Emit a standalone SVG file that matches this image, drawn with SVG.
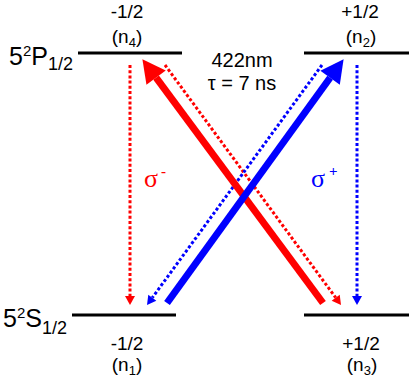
<svg xmlns="http://www.w3.org/2000/svg" width="415" height="382" viewBox="0 0 415 382">
<style>
.lvl{stroke:#000;stroke-width:3;fill:none}
.t{font-family:"Liberation Sans",Arial,sans-serif;fill:#000}
.lab{font-size:19px;text-anchor:middle}
.big{font-size:25px}
.thickR{stroke:#FF0000;stroke-width:7;fill:none}
.thickB{stroke:#0000FF;stroke-width:7;fill:none}
.dotR{stroke:#FF0000;stroke-width:3;stroke-dasharray:3 2.2;fill:none}
.dotB{stroke:#0000FF;stroke-width:3;stroke-dasharray:3 2.2;fill:none}
.sig{font-family:"Liberation Serif","Times New Roman",serif;font-size:26px}
</style>
<defs>
<marker id="bigR" markerUnits="userSpaceOnUse" markerWidth="23" markerHeight="24" refX="0" refY="12" orient="auto" overflow="visible"><path d="M0,0 L23,12 L0,24 z" fill="#FF0000"/></marker>
<marker id="bigB" markerUnits="userSpaceOnUse" markerWidth="23" markerHeight="24" refX="0" refY="12" orient="auto" overflow="visible"><path d="M0,0 L23,12 L0,24 z" fill="#0000FF"/></marker>
<marker id="smR" markerUnits="userSpaceOnUse" markerWidth="9" markerHeight="10" refX="0" refY="5" orient="auto" overflow="visible"><path d="M0,0 L9,5 L0,10 z" fill="#FF0000"/></marker>
<marker id="smB" markerUnits="userSpaceOnUse" markerWidth="9" markerHeight="10" refX="0" refY="5" orient="auto" overflow="visible"><path d="M0,0 L9,5 L0,10 z" fill="#0000FF"/></marker>
</defs>

<g id="level-P-minus"><line class="lvl" x1="78" y1="53" x2="182" y2="53"/>
<text class="t lab" x="127" y="18">-1/2</text>
<text class="t lab" x="127" y="43">(n<tspan font-size="13" dy="4">4</tspan><tspan dy="-4">)</tspan></text></g>
<g id="level-P-plus"><line class="lvl" x1="304" y1="53" x2="409" y2="53"/>
<text class="t lab" x="360" y="18">+1/2</text>
<text class="t lab" x="361" y="43">(n<tspan font-size="13" dy="4">2</tspan><tspan dy="-4">)</tspan></text></g>
<g id="level-S-minus"><line class="lvl" x1="72" y1="315" x2="176" y2="315"/>
<text class="t lab" x="127" y="350">-1/2</text>
<text class="t lab" x="127" y="371">(n<tspan font-size="13" dy="4">1</tspan><tspan dy="-4">)</tspan></text></g>
<g id="level-S-plus"><line class="lvl" x1="304" y1="315" x2="409" y2="315"/>
<text class="t lab" x="361" y="350">+1/2</text>
<text class="t lab" x="362" y="371">(n<tspan font-size="13" dy="4">3</tspan><tspan dy="-4">)</tspan></text></g>

<g id="label-P"><text class="t big" x="9" y="65">5<tspan font-size="15" dy="-9">2</tspan><tspan dy="9">P</tspan><tspan font-size="18" dy="5">1/2</tspan></text></g>
<g id="label-S"><text class="t big" x="3" y="327">5<tspan font-size="15" dy="-9">2</tspan><tspan dy="9">S</tspan><tspan font-size="18" dy="7">1/2</tspan></text></g>

<g id="label-wavelength"><text class="t" font-size="20" text-anchor="middle" x="242" y="67">422nm</text>
<text class="t" font-size="20" text-anchor="middle" x="242" y="90">τ = 7 ns</text></g>

<g id="connectors">
<line class="dotR" x1="130" y1="65" x2="130" y2="296" marker-end="url(#smR)"/>
<line class="dotR" x1="165" y1="65" x2="335.7" y2="297.7" marker-end="url(#smR)"/>
<line class="dotB" x1="357" y1="65" x2="357" y2="296" marker-end="url(#smB)"/>
<line class="dotB" x1="322" y1="65" x2="152.3" y2="297.7" marker-end="url(#smB)"/>
<line class="thickR" x1="323" y1="303" x2="156.1" y2="77.7" marker-end="url(#bigR)"/>
<line class="thickB" x1="167" y1="303" x2="330.1" y2="77.8" marker-end="url(#bigB)"/>
</g>

<g id="sigma-minus"><text class="sig" fill="#FF0000" x="144" y="187">σ<tspan font-size="15" font-weight="bold" dx="3" dy="-11">-</tspan></text></g>
<g id="sigma-plus"><text class="sig" fill="#0000FF" x="311" y="187">σ<tspan font-size="15" font-weight="bold" dx="4" dy="-11">+</tspan></text></g>
</svg>
